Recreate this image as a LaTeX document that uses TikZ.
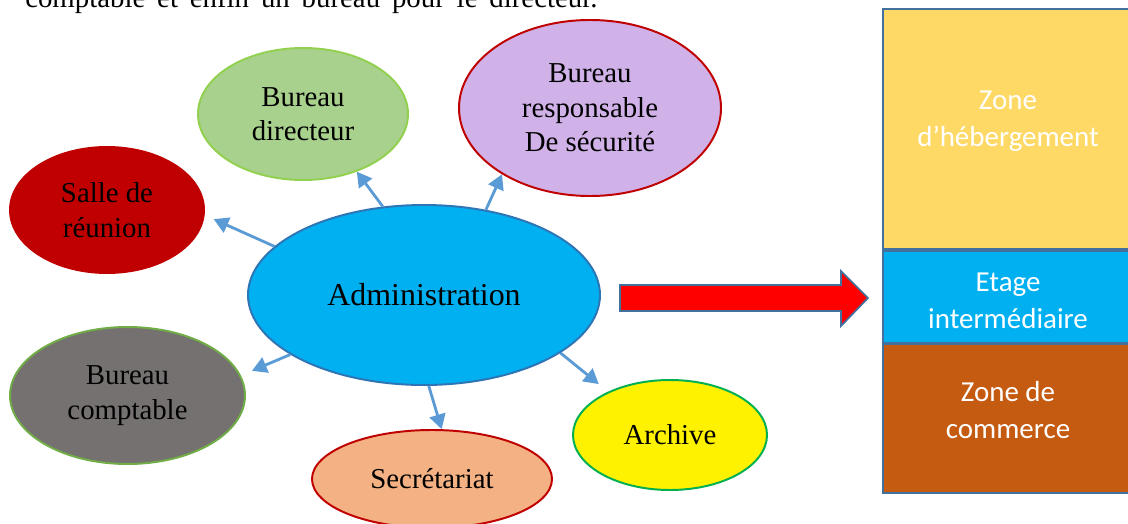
\documentclass[tikz,border=0pt]{standalone}
\usepackage{fontspec}
\setmainfont{Liberation Serif}
\newfontfamily\boxfont{Carlito}
\usetikzlibrary{arrows.meta,shapes.geometric}
\definecolor{AdminBlue}{HTML}{00B0F0}
\definecolor{AdminEdge}{HTML}{2E75B6}
\definecolor{LinkBlue}{HTML}{5B9BD5}
\definecolor{DirGreen}{HTML}{A9D18E}
\definecolor{DirEdge}{HTML}{92D050}
\definecolor{SecLilac}{HTML}{D0B2E8}
\definecolor{DarkRed}{HTML}{C00000}
\definecolor{CompGrey}{HTML}{767171}
\definecolor{CompEdge}{HTML}{70AD47}
\definecolor{SecrSalmon}{HTML}{F4B183}
\definecolor{ArchEdge}{HTML}{00B050}
\definecolor{ZoneYellow}{HTML}{FFD966}
\definecolor{ZoneBrown}{HTML}{C55A11}
\definecolor{FrameEdge}{HTML}{41719C}

\tikzset{
  room/.style={ellipse, draw, line width=1.4pt, inner sep=0pt, align=center,
    font=\fontsize{20.5}{24.5}\selectfont},
  link/.style={LinkBlue, line width=2pt, -{Triangle[length=10.5pt,width=11.5pt]}},
  zonetext/.style={white, align=center, font=\boxfont\fontsize{20.6}{26.5}\selectfont}
}

\begin{document}
\begin{tikzpicture}[x=0.025cm, y=-0.025cm]

\useasboundingbox (0,0) rectangle (1128,524);
\clip (0,0) rectangle (1128,524);

% Text line cut off at the top
\node[anchor=base west, inner sep=0pt, font=\fontsize{20.5}{24.5}\selectfont] (intro) at (25,8)
  {\makebox[14.3cm][s]{comptable et enfin un bureau pour le directeur.}};

% --- Central node ---
\node[room, fill=AdminBlue, draw=AdminEdge, minimum width=352*0.025cm, minimum height=180*0.025cm,
  font=\fontsize{22.7}{26}\selectfont] (admin) at (424,295) {Administration};

% --- Surrounding offices ---
\node[room, fill=DirGreen, draw=DirEdge, minimum width=210*0.025cm, minimum height=132*0.025cm]
  (directeur) at (303,114) {Bureau\\directeur};
\node[room, fill=SecLilac, draw=DarkRed, minimum width=262*0.025cm, minimum height=176*0.025cm]
  (securite) at (590,108) {Bureau\\responsable\\De sécurité};
\node[room, fill=DarkRed, draw=DarkRed, minimum width=194*0.025cm, minimum height=126*0.025cm]
  (salle) at (107,210) {Salle de\\réunion};
\node[room, fill=CompGrey, draw=CompEdge, minimum width=235*0.025cm, minimum height=137*0.025cm]
  (comptable) at (127.5,395.5) {Bureau\\comptable};
\node[room, fill=SecrSalmon, draw=DarkRed, minimum width=240*0.025cm, minimum height=98*0.025cm]
  (secretariat) at (432,479) {Secrétariat};
\node[room, fill=yellow, draw=ArchEdge, minimum width=194*0.025cm, minimum height=110*0.025cm]
  (archive) at (670,435) {Archive};

% --- Links ---
\draw[link, shorten >=7pt] (admin.162.6) -- (salle.-3.7);
\draw[link] (admin.115.5) -- (directeur.-47.5);
\draw[link] (admin.54.3) -- (securite.217.3);
\draw[link, shorten >=8.5pt] (admin.204.9) -- (comptable.10.2);
\draw[link] (admin.273.7) -- (secretariat.79.8);
\draw[link, shorten >=8.5pt] (admin.337.3) -- (archive.145.8);

% --- Block arrow ---
\filldraw[fill=red, draw=FrameEdge, line width=1.2pt]
  (620,285) -- (841,285) -- (841,271) -- (868,298) -- (841,326) -- (841,311) -- (620,311) -- cycle;

% --- Building section ---
\filldraw[fill=ZoneYellow, draw=FrameEdge, line width=1.3pt] (883,9) rectangle (1133,249);
\filldraw[fill=AdminBlue, draw=FrameEdge, line width=1.3pt] (883,251) rectangle (1133,343);
\filldraw[fill=ZoneBrown, draw=FrameEdge, line width=1.3pt] (883,344) rectangle (1133,493);
\node[zonetext] (hebergement) at (1008,121) {Zone\\d’hébergement};
\node[zonetext] (etage) at (1008,301) {Etage\\intermédiaire};
\node[zonetext] (commerce) at (1008,410) {Zone de\\commerce};

\end{tikzpicture}
\end{document}
